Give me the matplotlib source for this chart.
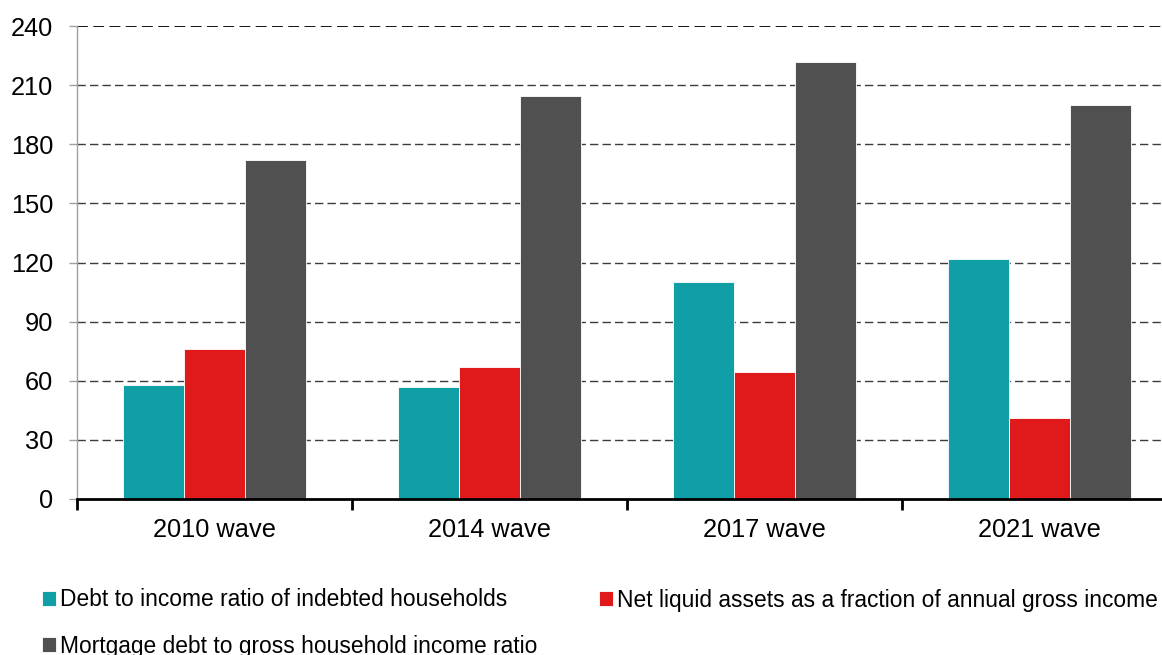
import matplotlib

matplotlib.use("Agg")
import matplotlib.pyplot as plt
import numpy as np

categories = ["2010 wave", "2014 wave", "2017 wave", "2021 wave"]
debt_to_income = [58, 57, 110, 122]
net_liquid_assets = [76, 67, 64.5, 41]
mortgage_debt = [172, 204.5, 221.5, 200]
series_names = [
    "Debt to income ratio of indebted households",
    "Net liquid assets as a fraction of annual gross income",
    "Mortgage debt to gross household income ratio",
]
colors = ["#109FA6", "#E0191B", "#505050"]
y_ticks = [0, 30, 60, 90, 120, 150, 180, 210, 240]

plt.rcParams["font.family"] = ["Liberation Sans", "DejaVu Sans"]

fig = plt.figure(figsize=(11.62, 6.55), dpi=100)
ax = fig.add_axes([77 / 1162, 1 - 499 / 655, 1100 / 1162, 473 / 655])

x = np.arange(len(categories)) + 0.5
w = 0.221
bars = []
for i, (vals, c) in enumerate(zip([debt_to_income, net_liquid_assets, mortgage_debt], colors)):
    b = ax.bar(x + (i - 1) * w, vals, width=w, color=c, edgecolor="white",
               linewidth=0.6, zorder=3)
    bars.append(b)

ax.set_xlim(0, len(categories))
ax.set_ylim(0, 240)
ax.set_yticks(y_ticks)
ax.set_yticklabels([str(t) for t in y_ticks], fontsize=18.3)
ax.set_xticks(np.arange(len(categories) + 1))
ax.set_xticklabels([])
ax.set_xticks(x, minor=True)
ax.set_xticklabels(categories, minor=True, fontsize=18.3)
ax.tick_params(axis="x", which="major", direction="out", length=8, width=2, color="black")
ax.tick_params(axis="x", which="minor", length=0, pad=14)
ax.tick_params(axis="y", direction="out", length=6, width=1, color="#A0A0A0", pad=11)

for t in y_ticks[1:-1]:
    ax.axhline(t, color="#3C3C3C", linestyle=(0, (6, 3)), linewidth=1, zorder=1)
ax.axhline(240, color="black", linestyle=(0, (6, 3)), linewidth=1.3, zorder=1)

for s in ["top", "right"]:
    ax.spines[s].set_visible(False)
ax.spines["left"].set_color("#A0A0A0")
ax.spines["left"].set_linewidth(1)
ax.spines["bottom"].set_color("black")
ax.spines["bottom"].set_linewidth(2)
ax.spines["bottom"].set_zorder(4)

legend_pos = [(42 / 1162, 1 - 600 / 655), (599 / 1162, 1 - 600 / 655), (42 / 1162, 1 - 646 / 655)]
for b, name, pos in zip(bars, series_names, legend_pos):
    fig.legend(handles=[b], labels=[name], loc="center left", bbox_to_anchor=pos,
               frameon=False, fontsize=16.4, handlelength=0.6, handleheight=0.6,
               handletextpad=0.2, borderaxespad=0, borderpad=0)

fig.savefig("out.png", dpi=100)
